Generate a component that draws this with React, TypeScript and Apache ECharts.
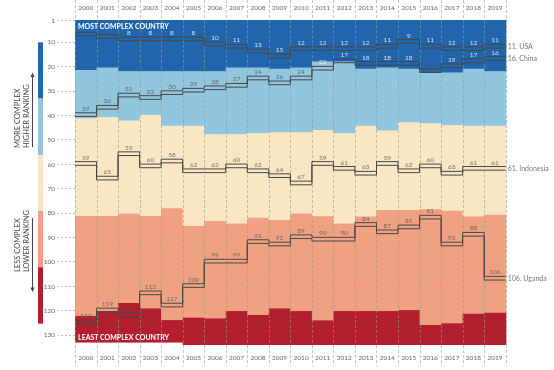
import React, { useEffect, useRef } from 'react';
import * as echarts from 'echarts';

const years = ['2000','2001','2002','2003','2004','2005','2006','2007','2008','2009','2010','2011','2012','2013','2014','2015','2016','2017','2018','2019'];

// band boundaries (rank values) per year
const bandStart = [1,1,1,1,1,1,1,1,1,1,1,1,1,1,1,1,1,1,1,1];
const darkBlueEnd = [21.5,20.5,22,22,22,22,22,20.5,20.5,21,20.5,18,18,21,20.5,21,22.5,22.5,21,22];
const lightBlueEnd = [41.3,40.8,42.2,39.9,44.3,44.3,47.8,47.8,47.4,47,47,46,47.4,44.3,46.3,42.9,43.3,44,44.3,44.3];
const beigeEnd = [81.3,81.3,80.3,81.3,78.1,85.4,83.3,84.3,82,82.9,80.2,81.4,84.3,81.5,78.8,78.8,78.5,79.1,81.5,80.8];
const salmonEnd = [122.2,120.2,116.9,119.1,123.9,122.9,123.2,120.2,121.8,119.1,120.2,124,120.2,120.2,120.2,119.8,125.9,125.2,121.3,120.9];
const totalEnd = [133.1,133.1,133.1,133.1,133.1,134.1,134.1,134.1,134.1,134.1,134.1,134.1,134.1,134.1,134.1,134.1,134.1,134.1,134.1,134.1];

const usa = [6,7,8,8,8,8,10,11,13,15,12,12,12,12,11,9,11,12,12,11];
const china = [39,36,31,32,30,29,28,27,24,26,24,20,17,18,18,18,21,19,17,16];
const indonesia = [59,65,55,60,58,62,62,60,62,64,67,59,61,63,59,62,60,63,61,61];
const uganda = [124,119,121,112,117,109,99,99,91,92,89,90,90,84,87,85,81,92,88,106];

const countries = [
  { name: 'USA', values: usa, hideLabels: [0, 1] },
  { name: 'China', values: china, hideLabels: [] as number[] },
  { name: 'Indonesia', values: indonesia, hideLabels: [] as number[] },
  { name: 'Uganda', values: uganda, hideLabels: [] as number[] },
];

const yTicks = [1,10,20,30,40,50,60,70,80,90,100,110,120,130];

const bandColors = ['#2166ac', '#92c5de', '#f9e6c3', '#efa182', '#b11e2d'];
const FONT = 'Lato, "Open Sans", sans-serif';
const BOX_H = 1.5;

function stepPoints(values: number[], offset: number) {
  const pts: number[][] = [];
  values.forEach((v, i) => {
    pts.push([i, v + offset]);
    pts.push([i + 1, v + offset]);
  });
  return pts;
}

export default function App() {
  const ref = useRef<HTMLDivElement>(null);
  useEffect(() => {
    if (!ref.current) return;
    const chart = echarts.init(ref.current, null, { renderer: 'svg' });

    const bandData = years.map((_, i) => [i, bandStart[i], darkBlueEnd[i], lightBlueEnd[i], beigeEnd[i], salmonEnd[i], totalEnd[i]]);

    const series: any[] = [];
    series.push({
      type: 'custom',
      xAxisIndex: 0,
      yAxisIndex: 0,
      z: 1,
      data: bandData,
      renderItem: (params: any, api: any) => {
        const i = api.value(0);
        const children: any[] = [];
        for (let k = 0; k < 5; k++) {
          const a = api.value(1 + k);
          const b = api.value(2 + k);
          const p1 = api.coord([i, a]);
          const p2 = api.coord([i + 1, b]);
          children.push({
            type: 'rect',
            shape: { x: p1[0], y: p1[1], width: p2[0] - p1[0] + 0.6, height: p2[1] - p1[1] + (k < 4 ? 0.4 : 0) },
            style: { fill: bandColors[k] },
          });
        }
        return { type: 'group', children };
      },
    });

    // vertical dashed year separators
    series.push({
      type: 'custom',
      xAxisIndex: 0,
      yAxisIndex: 0,
      z: 2,
      clip: false,
      data: Array.from({ length: years.length + 1 }, (_, i) => [i]),
      renderItem: (params: any, api: any) => {
        const x = Math.round(api.coord([api.value(0), 1])[0]) + 0.5;
        return {
          type: 'line',
          shape: { x1: x, y1: 0, x2: x, y2: 366 },
          style: { stroke: 'rgba(150,150,150,0.55)', lineWidth: 1, lineDash: [3, 2] },
        };
      },
    });

    countries.forEach((c) => {
      [0, BOX_H].forEach((off) => {
        series.push({
          type: 'line',
          xAxisIndex: 0,
          yAxisIndex: 0,
          z: 3,
          symbol: 'none',
          silent: true,
          lineStyle: { color: '#474747', width: 1 },
          data: stepPoints(c.values, off),
        });
      });
      series.push({
        type: 'scatter',
        xAxisIndex: 0,
        yAxisIndex: 0,
        z: 4,
        symbolSize: 0,
        silent: true,
        data: c.values.map((v, i) => ({
          value: [i + 0.5, v],
          label: {
            show: !c.hideLabels.includes(i),
            color: v <= 20 ? '#ffffff' : '#555555',
          },
        })),
        label: {
          position: 'top',
          distance: 1,
          fontSize: 6.5,
          fontFamily: FONT,
          formatter: (p: any) => String(p.value[1]),
        },
      });
      const last = c.values[c.values.length - 1];
      series.push({
        type: 'scatter',
        xAxisIndex: 0,
        yAxisIndex: 0,
        z: 4,
        symbolSize: 0,
        silent: true,
        data: [{ value: [years.length, last + BOX_H / 2], name: c.name }],
        label: {
          show: true,
          position: 'right',
          distance: 2,
          fontSize: 7,
          fontFamily: FONT,
          color: '#555555',
          formatter: () => `${last}. ${c.name}`,
        },
      });
    });

    const legendSeg = [
      [42.3, 98.3],
      [98.3, 155],
      [155, 211],
      [211, 267.3],
      [267.3, 323.3],
    ];

    const graphic: any[] = [];
    legendSeg.forEach((s, k) => {
      graphic.push({
        type: 'rect',
        shape: { x: 38, y: s[0], width: 5, height: s[1] - s[0] + 0.3 },
        style: { fill: bandColors[k] },
      });
    });
    const sideText = (text: string, x: number, y: number) => ({
      type: 'text',
      x,
      y,
      rotation: Math.PI / 2,
      style: {
        text,
        fill: '#444',
        fontSize: 7.5,
        fontFamily: FONT,
        textAlign: 'left',
        textVerticalAlign: 'middle',
      },
    });
    graphic.push(sideText('MORE COMPLEX', 17, 148));
    graphic.push(sideText('HIGHER RANKING', 26, 148));
    graphic.push(sideText('LESS COMPLEX', 17, 272));
    graphic.push(sideText('LOWER RANKING', 26, 272));
    graphic.push({ type: 'line', shape: { x1: 32.5, y1: 147, x2: 32.5, y2: 76 }, style: { stroke: '#444', lineWidth: 1 } });
    graphic.push({ type: 'polygon', shape: { points: [[32.5, 72.5], [30.5, 77], [34.5, 77]] }, style: { fill: '#444' } });
    graphic.push({ type: 'line', shape: { x1: 32.5, y1: 218, x2: 32.5, y2: 288 }, style: { stroke: '#444', lineWidth: 1 } });
    graphic.push({ type: 'polygon', shape: { points: [[32.5, 292], [30.5, 287.5], [34.5, 287.5]] }, style: { fill: '#444' } });
    graphic.push({
      type: 'text', x: 78, y: 26, z: 10,
      style: { text: 'MOST COMPLEX COUNTRY', fill: '#ffffff', fontSize: 7, fontWeight: 'bold', fontFamily: FONT, textVerticalAlign: 'middle' },
    });
    graphic.push({
      type: 'text', x: 78, y: 337, z: 10,
      style: { text: 'LEAST COMPLEX COUNTRY', fill: '#ffffff', fontSize: 7, fontWeight: 'bold', fontFamily: FONT, textVerticalAlign: 'middle' },
    });

    const catAxis = (position: 'top' | 'bottom') => ({
      type: 'category',
      position,
      data: years,
      boundaryGap: true,
      axisLine: { show: false },
      axisTick: { show: false },
      splitLine: { show: false },
      axisLabel: { fontSize: 6.5, color: '#666', fontFamily: FONT, margin: 9, interval: 0 },
    });

    chart.setOption({
      animation: false,
      textStyle: { fontFamily: FONT },
      grid: { left: 75, right: 48.3, top: 20, bottom: 25 },
      xAxis: [
        { type: 'value', min: 0, max: years.length, show: false },
        catAxis('top'),
        catAxis('bottom'),
      ],
      yAxis: [{
        type: 'value',
        inverse: true,
        min: 1,
        max: 134.1,
        axisLine: { show: false },
        splitLine: { show: false },
        axisTick: { show: true, length: 17, customValues: yTicks, lineStyle: { color: '#bbb', type: [2, 2] } },
        axisLabel: { customValues: yTicks, fontSize: 6.5, color: '#666', fontFamily: FONT, margin: 20 },
      }],
      series,
      graphic,
    });
    return () => chart.dispose();
  }, []);
  return <div ref={ref} style={{ position: 'fixed', left: 0, top: 0, width: 554, height: 370 }} />;
}
